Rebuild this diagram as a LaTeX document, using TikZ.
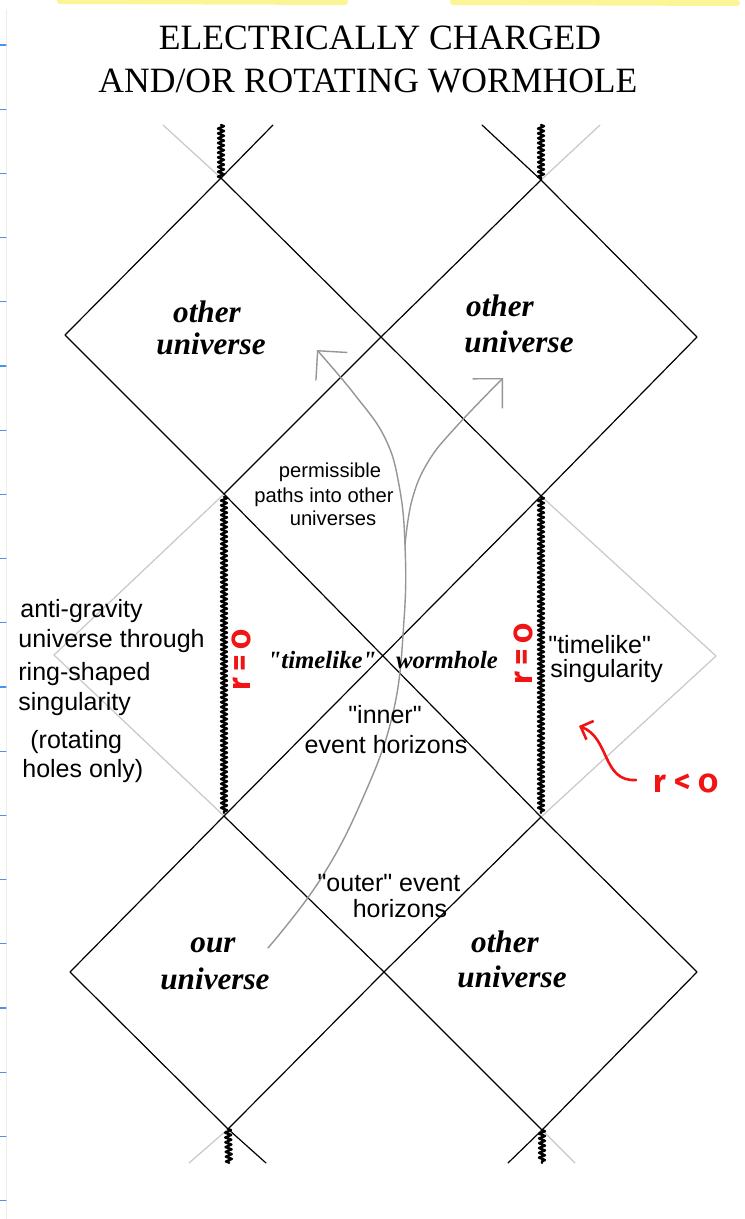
\documentclass[tikz,border=0pt]{standalone}
\usepackage{fontspec}
\setmainfont{Liberation Serif}
\setsansfont{Liberation Sans}
\newfontfamily\handfont[Numbers=OldStyle]{Fira Sans}
\usetikzlibrary{arrows.meta}
\usetikzlibrary{decorations.pathmorphing}
\definecolor{hilite}{RGB}{252,245,150}
\definecolor{tickblue}{RGB}{70,150,240}
\definecolor{pathgray}{RGB}{150,150,150}
\definecolor{ghostgray}{RGB}{200,200,200}
\definecolor{penred}{RGB}{240,20,20}
\newcommand{\qt}[1]{\textquotedbl#1\textquotedbl}

\begin{document}
\begin{tikzpicture}[line cap=round,line join=round,x=0.5pt,y=-0.5pt,
        rim/.style={line width=0.6pt,color=black},
        ghost/.style={line width=0.6pt,color=ghostgray},
        sing/.style={line width=1.2pt,color=black,decorate,decoration={zigzag,segment length=2.4pt,amplitude=1.5pt}},
        route/.style={line width=0.7pt,color=pathgray,-{Straight Barb[length=10.5pt,width=21pt]}},
        pen/.style={line width=1.3pt,color=penred,-{Straight Barb[length=5pt,width=10pt]}},
        head/.style={anchor=base,inner sep=0pt,font=\fontsize{17.8}{21}\selectfont},
        world/.style={anchor=base,inner sep=0pt,font=\fontsize{15.6}{18}\selectfont\bfseries\itshape},
        hole/.style={anchor=base,inner sep=0pt,font=\fontsize{12.4}{15}\selectfont\bfseries\itshape},
        note/.style={anchor=base,inner sep=0pt,font=\sffamily\fontsize{12.5}{15}\selectfont},
        fine/.style={anchor=base,inner sep=0pt,font=\sffamily\fontsize{10.1}{12}\selectfont},
        scrawl/.style={inner sep=0pt,color=penred,font=\handfont\bfseries\fontsize{16}{18}\selectfont}]
        \useasboundingbox (0,0) rectangle (744,1219);
        \fill [white] (0,0) rectangle (744,1219);
        \draw [line width=3pt,color=hilite] (60,1) -- (345,2);
        \draw [line width=3pt,color=hilite] (453,2) -- (737,3);
        \draw [line width=0.4pt,color=gray!15] (6,10) -- (6,1219);
        \foreach \k in {0,...,18}
            \draw [line width=0.6pt,color=tickblue] (0,{45+64.2*\k}) -- (6,{45+64.2*\k});

        \node [head] (head1) at (380,50) {ELECTRICALLY CHARGED};
        \node [head] (head2) at (368,93) {AND/OR ROTATING WORMHOLE};

        \coordinate (tl) at (221,178);
        \coordinate (tr) at (541,180);
        \coordinate (ul) at (65,335);
        \coordinate (um) at (381,337);
        \coordinate (ur) at (697,337);
        \coordinate (ml) at (224,494);
        \coordinate (mr) at (541,496);
        \coordinate (ll) at (224,816);
        \coordinate (lr) at (541,817);
        \coordinate (bl) at (70,972);
        \coordinate (bm) at (384,972);
        \coordinate (br) at (697,972);
        \coordinate (bbl) at (228,1129);
        \coordinate (bbr) at (542,1130);
        \coordinate (gl) at (54,655);
        \coordinate (gr) at (716,656);

        \draw [ghost] (tl)-- (163,125);
        \draw [ghost] (tr)-- (600,125);
        \draw [ghost] (bbl)-- (189,1163);
        \draw [ghost] (bbr)-- (575,1163);
        \draw [ghost] (ml)-- (gl)-- (ll);
        \draw [ghost] (mr)-- (gr)-- (lr);

        \draw [rim] (tl)-- (273,125);
        \draw [rim] (tr)-- (482,125);
        \draw [rim] (bbl)-- (266,1163);
        \draw [rim] (bbr)-- (508,1163);
        \draw [rim] (tl)-- (ul)-- (ml)-- (um)-- cycle;
        \draw [rim] (tr)-- (um)-- (mr)-- (ur)-- cycle;
        \draw [rim] (ml)-- (lr);
        \draw [rim] (mr)-- (ll);
        \draw [rim] (ll)-- (bl)-- (bbl)-- (bm)-- cycle;
        \draw [rim] (lr)-- (bm)-- (bbr)-- (br)-- cycle;

        \draw [sing] (221,125)-- (tl);
        \draw [sing] (541,125)-- (tr);
        \draw [sing] (224,497)-- (224,813);
        \draw [sing] (541,497)-- (541,813);
        \draw [sing] (bbl)-- (229,1163);
        \draw [sing] (bbr)-- (542,1163);

        \draw [route] plot [smooth,tension=0.7] coordinates {(268,948) (320,880) (362,800) (393,713) (404,620) (405,545) (399,485) (385,438) (355,395) (317,350)};
        \draw [route] plot [smooth,tension=0.7] coordinates {(405,545) (412,500) (428,462) (455,428) (503,378)};

        \node [world] (ulother) at (207,322) {other};
        \node [world] (uluni) at (211,355) {universe};
        \node [world] (urother) at (500,317) {other};
        \node [world] (uruni) at (519,352) {universe};
        \node [world] (llour) at (213,952) {our};
        \node [world] (lluni) at (215,989) {universe};
        \node [world] (lrother) at (505,952) {other};
        \node [world] (lruni) at (512,987) {universe};
        \node [hole] (tlike) at (322,668) {\qt{timelike}};
        \node [hole] (worm) at (447,668) {wormhole};

        \node [fine] (perm1) at (330,477) {permissible};
        \node [fine] (perm2) at (324,502) {paths into other};
        \node [fine] (perm3) at (333,525) {universes};
        \node [note] (inner1) at (385,723) {\qt{inner}};
        \node [note] (inner2) at (386,753) {event horizons};
        \node [note] (outer1) at (389,891) {\qt{outer} event};
        \node [note] (outer2) at (400,917) {horizons};
        \node [note,anchor=base west] (anti1) at (20,617) {anti-gravity};
        \node [note,anchor=base west] (anti2) at (18,647) {universe through};
        \node [note,anchor=base west] (anti3) at (18,680) {ring-shaped};
        \node [note,anchor=base west] (anti4) at (18,710) {singularity};
        \node [note,anchor=base west] (rot1) at (30,748) {(rotating};
        \node [note,anchor=base west] (rot2) at (22,777) {holes only)};
        \node [note,anchor=base west] (tsing1) at (548,653) {\qt{timelike}};
        \node [note,anchor=base west] (tsing2) at (550,677) {singularity};

        \node [scrawl,rotate=90] (rzl) at (241,660) {r\hspace{3pt}=\hspace{3pt}0};
        \node [scrawl,rotate=90] (rzr) at (523,654) {r\hspace{3pt}=\hspace{3pt}0};
        \node [scrawl,anchor=base west] (rneg) at (653,792) {r\hspace{4pt}<\hspace{4pt}0};
        \coordinate (tail) at (636,780);
        \coordinate (tip) at (579,726);
        \draw [pen] (tail) .. controls (602,782) and (610,738) .. (tip);
\end{tikzpicture}
\end{document}
